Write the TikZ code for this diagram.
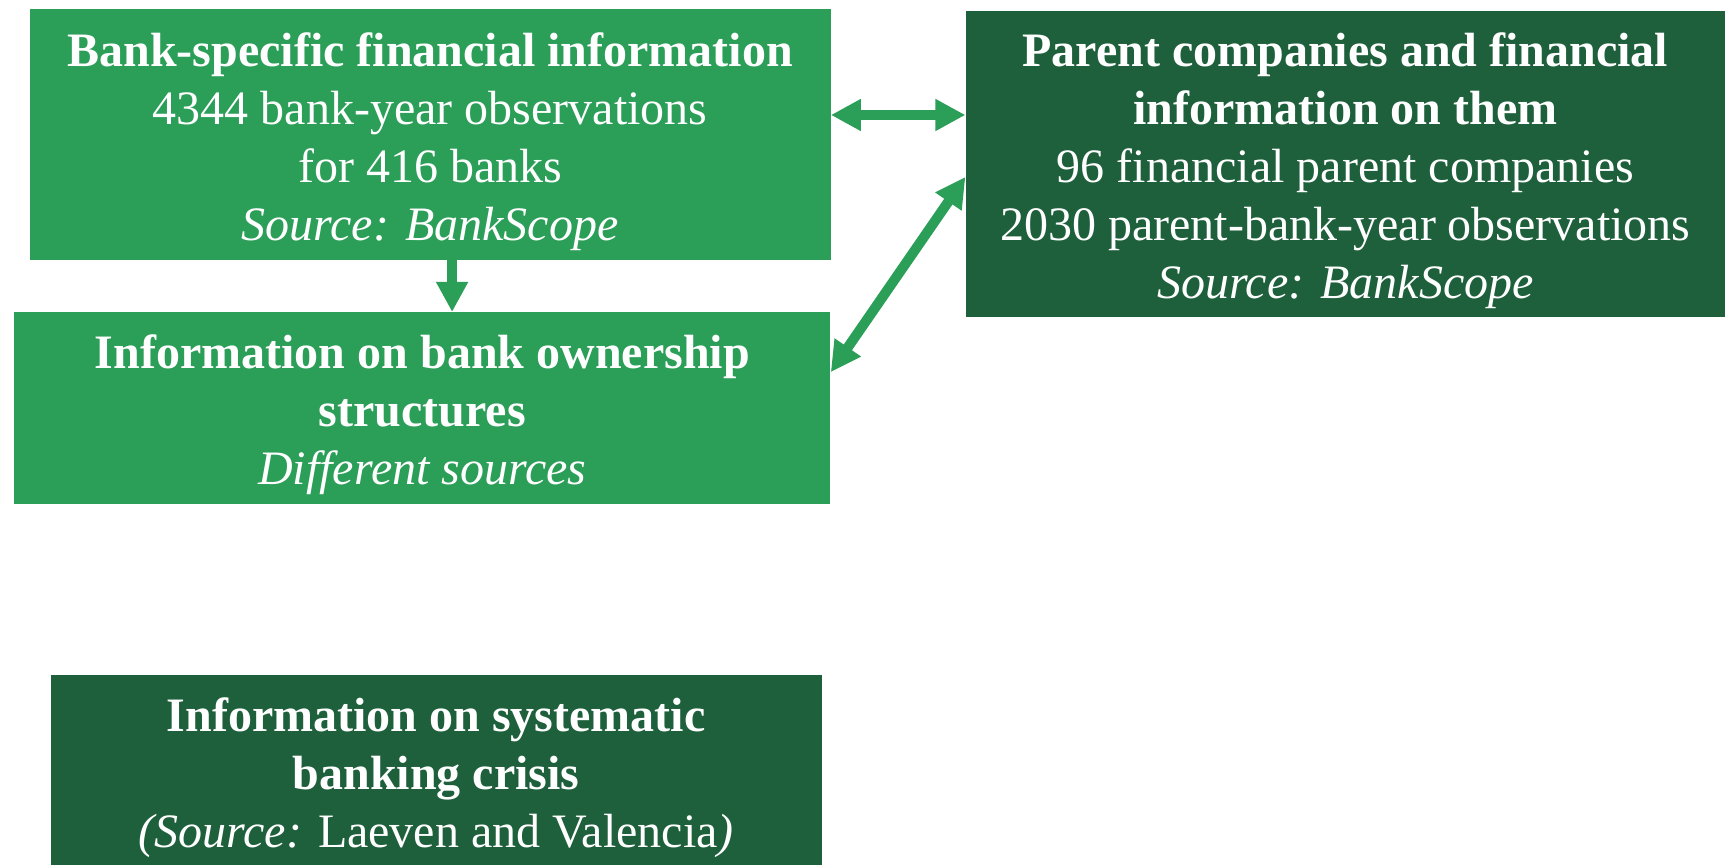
\documentclass[tikz,border=0pt]{standalone}
\usepackage{fontspec}
\setmainfont{Liberation Serif}
\usepackage{xcolor}
\usetikzlibrary{arrows.meta,positioning}

\definecolor{boxlight}{RGB}{43,158,88}
\definecolor{boxdark}{RGB}{30,96,59}
% extra room above the first line of a box
\newcommand\topgap{\rule{0pt}{24pt}}

\begin{document}
\begin{tikzpicture}[
  src/.style={inner sep=0pt, align=center, text=white,
    font=\fontsize{24}{29}\selectfont},
  arr/.style={-{Triangle[length=15pt,width=15pt]}, line width=5pt, boxlight},
  dblarr/.style={{Triangle[length=15pt,width=15pt]}-{Triangle[length=15pt,width=15pt]},
    line width=5pt, boxlight},
]
  \useasboundingbox (0,0) rectangle (862.5pt,-432.5pt);

  \node[src, fill=boxlight, minimum width=400.4pt, minimum height=125.4pt]
    (bank) at (215.05pt,-67.1pt)
    {\topgap\textbf{Bank-specific financial information}\\
     4344 bank-year observations\\
     for 416 banks\\
     \textit{Source: BankScope}};
  \node[src, fill=boxlight, minimum width=408pt, minimum height=95.7pt]
    (own) at (211.2pt,-204.05pt)
    {\topgap\textbf{Information on bank ownership}\\
     \textbf{structures}\\
     \textit{Different sources}};
  \node[src, fill=boxdark, minimum width=379.6pt, minimum height=152.9pt]
    (parent) at (672.7pt,-81.95pt)
    {\topgap\textbf{Parent companies and financial}\\
     \textbf{information on them}\\
     96 financial parent companies\\
     2030 parent-bank-year observations\\
     \textit{Source: BankScope}};
  \node[src, fill=boxdark, minimum width=385.55pt, minimum height=94.8pt]
    (crisis) at (218.08pt,-385.1pt)
    {\topgap\textbf{Information on systematic}\\
     \textbf{banking crisis}\\
     \textit{(Source:} Laeven and Valencia\textit{)}};

  \draw[arr] ([xshift=11pt]bank.south) -- ([xshift=11pt]bank.south |- own.north);
  \draw[dblarr] ([yshift=9.6pt]bank.east) -- ([yshift=9.6pt]bank.east -| parent.west);
  \draw[dblarr] ([yshift=18pt]own.east) -- ([yshift=-6.5pt]parent.west);
\end{tikzpicture}
\end{document}
